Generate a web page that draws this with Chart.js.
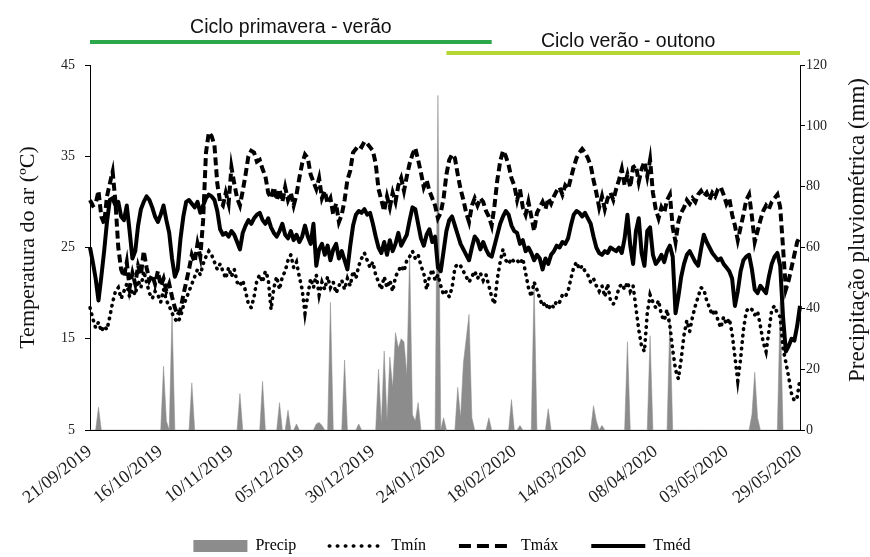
<!DOCTYPE html>
<html lang="pt">
<head>
<meta charset="utf-8">
<title>Temperatura e precipitação</title>
<script src="https://cdn.jsdelivr.net/npm/chart.js@4.4.1/dist/chart.umd.min.js"></script>
<style>
  html, body { margin: 0; padding: 0; background: #fff; }
</style>
</head>
<body>
<canvas id="chart" width="870" height="557"></canvas>
<script>
// daily series, 21/09/2019 .. 29/05/2020
const tmax = [
  30.2, 29.6, 29.8, 31.2, 28.4, 27.6, 30.6, 32.0, 33.3, 30.0,
  25.0, 22.6, 21.8, 23.4, 20.6, 22.2, 21.0, 23.0, 22.0, 24.6,
  22.8, 21.4, 22.0, 21.0, 22.4, 20.8, 21.6, 20.2, 21.0, 19.6,
  18.4, 17.6, 18.2, 19.8, 21.2, 22.6, 24.2, 23.4, 25.4, 24.0,
  28.0, 35.4, 37.6, 37.2, 36.2, 32.0, 30.0, 29.6, 31.0, 29.8,
  33.8, 32.0, 30.4, 29.6, 31.2, 33.0, 35.0, 35.6, 35.4, 34.4,
  34.6, 33.6, 32.8, 31.0, 30.4, 31.6, 30.2, 31.4, 30.0, 31.6,
  30.2, 31.0, 29.6, 30.8, 32.6, 34.2, 35.2, 34.8, 33.0, 32.2,
  31.4, 32.6, 30.4, 31.2, 29.8, 30.4, 28.6, 29.8, 27.8, 28.6,
  30.2, 32.4, 33.4, 35.4, 35.8, 36.2, 36.0, 36.6, 36.4, 36.0,
  35.6, 34.2, 31.4, 30.2, 29.0, 30.6, 29.4, 31.0, 30.0, 31.8,
  32.6, 31.2, 32.8, 34.2, 35.2, 35.9, 34.6, 33.2, 31.6, 32.4,
  31.2, 30.4, 29.6, 28.2, 28.8, 30.4, 33.0, 34.6, 35.2, 34.8,
  33.0, 31.4, 30.2, 28.8, 27.8, 29.6, 30.4, 29.6, 30.4, 30.0,
  29.0, 28.4, 27.4, 29.6, 32.4, 34.4, 35.6, 35.0, 34.0, 32.6,
  31.8, 30.2, 31.4, 29.4, 28.6, 30.0, 28.4, 26.8, 28.8, 29.4,
  30.0, 29.2, 30.4, 29.8, 30.6, 31.2, 31.6, 30.8, 31.8, 31.4,
  32.6, 33.8, 34.8, 35.4, 35.8, 35.4, 34.8, 34.0, 32.4, 31.0,
  29.4, 30.6, 29.2, 30.4, 31.0, 30.2, 31.4, 32.4, 33.6, 31.8,
  33.0, 31.6, 33.8, 34.0, 32.2, 33.6, 34.4, 32.8, 34.6, 31.0,
  29.2, 28.2, 29.4, 28.8, 30.2, 30.8, 27.2, 25.6, 27.8, 28.8,
  29.4, 30.2, 29.8, 30.4, 30.0, 30.8, 31.2, 30.6, 31.0, 30.2,
  31.0, 30.6, 31.4, 31.6, 30.8, 29.8, 30.4, 28.6, 27.4, 25.8,
  27.2, 28.6, 30.2, 30.8, 28.4, 25.6, 26.8, 28.0, 29.0, 29.6,
  29.2, 30.0, 30.4, 30.8, 29.4, 25.0, 20.4, 21.4, 22.8, 24.2, 25.6, 26.2
];

const tmin = [
  18.4, 17.2, 16.2, 16.8, 15.8, 16.4, 16.0, 17.4, 19.0, 20.2,
  20.6, 19.4, 20.2, 21.0, 19.6, 20.4, 19.8, 21.4, 20.6, 22.4,
  21.2, 20.0, 19.4, 20.2, 19.8, 19.0, 20.4, 19.2, 18.6, 17.8,
  17.2, 16.8, 17.4, 18.6, 19.4, 20.2, 21.0, 21.8, 22.6, 22.0,
  23.2, 24.0, 24.6, 24.2, 23.4, 22.6, 23.2, 22.4, 21.6, 22.8,
  21.8, 22.6, 21.2, 20.8, 21.4, 20.2, 18.8, 18.4, 19.6, 21.4,
  22.0, 21.2, 22.4, 21.6, 18.2, 20.6, 21.8, 20.4, 21.8, 22.4,
  23.6, 24.2, 22.8, 23.4, 21.8, 20.4, 17.8, 19.8, 21.6, 20.6,
  22.0, 19.8, 21.2, 20.4, 21.8, 20.6, 21.2, 20.0, 20.8, 21.4,
  20.4, 21.6, 20.8, 22.4, 21.6, 23.0, 23.8, 24.4, 23.6, 22.8,
  23.4, 22.0, 21.2, 20.4, 21.8, 20.6, 21.4, 20.2, 21.8, 22.4,
  23.0, 22.4, 23.6, 24.0, 24.6, 23.8, 24.2, 23.0, 22.2, 20.4,
  21.8, 22.6, 21.4, 22.0, 20.8, 19.8, 20.2, 19.6, 20.6, 22.8,
  23.2, 23.0, 22.4, 21.8, 21.2, 21.8, 22.4, 21.6, 22.2, 21.4,
  22.0, 20.8, 19.6, 18.8, 21.6, 23.4, 24.8, 23.6, 23.2, 23.8,
  23.4, 23.6, 23.2, 23.8, 22.2, 20.6, 19.6, 21.2, 20.4, 19.4,
  18.6, 19.0, 18.2, 18.8, 18.4, 19.2, 19.0, 19.8, 19.6, 20.2,
  21.6, 22.8, 23.4, 22.6, 23.0, 22.4, 22.0, 21.2, 21.6, 20.8,
  20.2, 20.8, 19.6, 21.0, 19.2, 18.8, 19.4, 20.6, 21.0, 20.4,
  21.2, 20.2, 20.8, 18.4, 16.0, 14.2, 13.6, 17.8, 19.8, 19.0,
  18.4, 19.2, 17.6, 17.0, 18.2, 16.4, 13.8, 11.6, 10.6, 12.8,
  15.4, 17.0, 15.8, 17.4, 18.6, 19.6, 20.6, 20.4, 19.2, 18.4,
  17.6, 18.2, 17.0, 16.2, 17.4, 16.6, 17.2, 15.6, 13.0, 10.4,
  12.8, 16.0, 18.0, 18.4, 18.2, 17.6, 18.0, 16.4, 14.6, 13.6,
  15.8, 18.2, 18.6, 17.8, 17.4, 14.0, 12.4, 10.8, 9.0, 8.2, 8.6, 10.6
];

const tmed = [
  25.0, 23.4, 21.6, 19.2, 21.8, 24.6, 27.8, 30.2, 30.4, 29.6,
  30.0, 28.4, 28.0, 29.6, 26.8, 23.8, 24.6, 27.4, 29.2, 30.0,
  30.6, 30.2, 29.4, 28.4, 27.8, 28.6, 29.6, 28.0, 26.6, 23.8,
  21.8, 22.6, 26.0, 28.4, 30.0, 30.2, 29.8, 29.4, 30.0, 28.8,
  29.6, 30.4, 30.8, 30.6, 30.2, 29.0, 27.0, 26.4, 26.6, 26.2,
  26.8, 26.4, 25.6, 24.8, 26.6, 27.4, 28.0, 27.6, 28.2, 28.6,
  28.8, 28.0, 27.6, 28.2, 27.2, 26.6, 26.2, 26.8, 27.6, 26.4,
  26.0, 26.8, 25.8, 26.4, 25.6, 26.2, 27.4, 26.2, 25.4, 27.6,
  23.0, 24.8, 25.4, 24.2, 25.2, 23.6, 24.8, 25.4, 23.8, 24.6,
  23.6, 22.6, 25.2, 27.4, 28.6, 29.0, 28.8, 29.2, 28.6, 28.8,
  27.6, 26.2, 25.0, 24.4, 25.6, 24.2, 25.8, 24.6, 25.4, 26.6,
  25.2, 25.8, 26.4, 28.0, 29.4, 29.2, 27.6, 26.0, 25.2, 26.4,
  27.0, 25.6, 26.2, 22.8, 22.4, 24.6, 26.8, 28.0, 28.4, 27.4,
  26.4, 25.4, 24.8, 24.2, 23.6, 25.0, 26.2, 25.8, 24.8, 25.6,
  24.8, 24.2, 24.0, 25.2, 26.4, 27.6, 28.4, 29.0, 28.6, 27.4,
  26.8, 26.6, 25.4, 25.8, 24.6, 25.0, 24.4, 23.6, 24.2, 23.8,
  22.6, 23.8, 23.2, 24.2, 24.6, 25.2, 25.0, 25.6, 25.4, 26.0,
  27.4, 28.6, 29.0, 28.8, 28.4, 28.8, 28.2, 27.6, 26.2, 25.0,
  24.4, 24.2, 24.6, 24.4, 25.0, 24.8, 24.6, 25.0, 24.4, 26.0,
  28.6, 25.2, 23.2, 26.8, 28.2, 24.4, 23.0, 26.8, 27.2, 24.2,
  23.2, 23.6, 24.2, 23.4, 24.6, 25.2, 24.0, 17.8, 19.6, 21.8,
  23.2, 24.2, 24.6, 24.0, 23.4, 23.0, 24.8, 26.4, 25.6, 25.0,
  24.4, 24.0, 23.6, 23.8, 23.2, 22.8, 22.4, 21.6, 18.6, 20.2,
  22.4, 23.6, 24.0, 24.2, 22.6, 20.4, 20.0, 20.8, 20.4, 20.0,
  21.8, 23.2, 24.0, 24.4, 23.0, 17.4, 13.6, 14.2, 15.0, 14.8, 16.4, 18.6
];

const precip = [
  0, 0, 0, 7.5, 0, 0, 0, 0, 0, 0,
  0, 0, 0, 0, 0, 0, 0, 0, 0, 0,
  0, 0, 0, 0, 0, 0, 21, 3, 0, 39,
  0, 0, 0, 0, 0, 0, 15.5, 0, 0, 0,
  0, 0, 0, 0, 0, 0, 0, 0, 0, 0,
  0, 0, 0, 12, 0, 0, 0, 0, 0, 0,
  0, 16, 0, 0, 0, 0, 0, 9, 0, 0,
  6.5, 0, 0, 2, 0, 0, 0, 0, 0, 0,
  2, 2.5, 1.5, 0, 0, 42, 0, 0, 0, 0,
  23, 0, 0, 0, 0, 2, 0, 0, 0, 0,
  0, 0, 20, 2, 26, 3, 24, 14, 32, 27,
  30, 29, 18, 58, 5, 3, 9, 0, 0, 0,
  0, 0, 0, 110, 0, 4, 0, 0, 0, 0,
  14, 4, 22, 30, 38, 4, 0, 0, 0, 0,
  0, 4, 0, 0, 0, 0, 0, 0, 0, 10,
  0, 0, 1.5, 0, 0, 0, 0, 49, 0, 0,
  0, 0, 7, 0, 0, 0, 0, 0, 0, 0,
  0, 0, 0, 0, 0, 0, 0, 0, 8, 3,
  0, 1.5, 0, 0, 0, 0, 0, 0, 0, 0,
  29, 0, 0, 0, 0, 0, 0, 0, 31, 0,
  0, 0, 0, 0, 0, 37, 0, 0, 0, 0,
  0, 0, 0, 0, 0, 0, 0, 0, 0, 0,
  0, 0, 0, 0, 0, 0, 0, 0, 0, 0,
  0, 0, 0, 0, 5, 19, 4, 0, 0, 0,
  0, 0, 0, 0, 42, 0, 0, 0, 0, 0, 0, 0
];

// x labels shown every 25 days, plus the last day
const tickIdx = [0, 25, 50, 75, 100, 125, 150, 175, 200, 225, 251];

// crop cycles drawn above the plot (start / end day index)
const cycleNames = ['Ciclo primavera - verão', 'Ciclo verão - outono'];
const cycleStart = [0, 126];
const cycleEnd = [142, 251];

const dates = [];
for (let i = 0; i < tmax.length; i++) {
  const d = new Date(2019, 8, 21 + i);
  const dd = String(d.getDate()).padStart(2, '0');
  const mm = String(d.getMonth() + 1).padStart(2, '0');
  dates.push(dd + '/' + mm + '/' + d.getFullYear());
}

const serif = "'Liberation Serif', 'Times New Roman', serif";
const sans = "'Liberation Sans', Arial, sans-serif";
const gray = '#8c8c8c';

const cyclePlugin = {
  id: 'cycles',
  afterDraw(chart) {
    const ctx = chart.ctx;
    const x = chart.scales.x;
    const barY = [42, 53];
    const textY = [33, 47];
    const textShift = [0, 5];
    const colors = ['#2aa84a', '#b4d734'];
    ctx.save();
    cycleNames.forEach((name, i) => {
      const x0 = x.getPixelForValue(cycleStart[i]);
      const x1 = x.getPixelForValue(cycleEnd[i]);
      ctx.fillStyle = colors[i];
      ctx.fillRect(x0, barY[i] - 2, x1 - x0, 4);
      ctx.fillStyle = '#111';
      ctx.font = '19.5px ' + sans;
      ctx.textAlign = 'center';
      ctx.textBaseline = 'alphabetic';
      ctx.fillText(name, (x0 + x1) / 2 + textShift[i], textY[i]);
    });
    ctx.restore();
  }
};

// right-hand title reads bottom-to-top like the left one
const rightTitle = {
  id: 'rightTitle',
  afterDraw(chart) {
    const ctx = chart.ctx;
    ctx.save();
    ctx.translate(858, 230);
    ctx.rotate(-Math.PI / 2);
    ctx.font = '23px ' + serif;
    ctx.fillStyle = '#111';
    ctx.textAlign = 'center';
    ctx.textBaseline = 'middle';
    ctx.fillText('Precipitação pluviométrica (mm)', 0, 0);
    ctx.restore();
  }
};

const ctx = document.getElementById('chart');

new Chart(ctx, {
  type: 'line',
  data: {
    labels: dates,
    datasets: [
      {
        label: 'Precip',
        data: precip,
        yAxisID: 'y2',
        borderColor: gray,
        borderWidth: 0.5,
        backgroundColor: gray,
        fill: 'origin',
        pointRadius: 0,
        order: 1
      },
      {
        label: 'Tmín',
        data: tmin,
        yAxisID: 'y',
        borderColor: '#000',
        borderWidth: 3.6,
        borderDash: [0.5, 6],
        borderCapStyle: 'round',
        pointRadius: 0,
        order: 0
      },
      {
        label: 'Tmáx',
        data: tmax,
        yAxisID: 'y',
        borderColor: '#000',
        borderWidth: 4,
        borderDash: [8, 4],
        pointRadius: 0,
        order: 0
      },
      {
        label: 'Tméd',
        data: tmed,
        yAxisID: 'y',
        borderColor: '#000',
        borderWidth: 4,
        borderJoinStyle: 'round',
        pointRadius: 0,
        order: 0
      }
    ]
  },
  options: {
    responsive: false,
    animation: false,
    layout: { padding: { top: 65, right: 0, bottom: -7, left: 14 } },
    plugins: {
      tooltip: { enabled: false },
      legend: {
        position: 'bottom',
        labels: {
          usePointStyle: true,
          pointStyleWidth: 54,
          boxHeight: 12,
          padding: 33,
          color: '#000',
          font: { family: serif, size: 16 },
          generateLabels(chart) {
            const ds = chart.data.datasets;
            return [
              { text: ds[0].label, pointStyle: 'rect', fillStyle: gray, strokeStyle: gray, lineWidth: 0, fontColor: '#000', datasetIndex: 0 },
              { text: ds[1].label, pointStyle: 'line', strokeStyle: '#000', lineWidth: 3.5, lineDash: [0.5, 7.5], lineCap: 'round', fontColor: '#000', datasetIndex: 1 },
              { text: ds[2].label, pointStyle: 'line', strokeStyle: '#000', lineWidth: 4, lineDash: [12, 6], fontColor: '#000', datasetIndex: 2 },
              { text: ds[3].label, pointStyle: 'line', strokeStyle: '#000', lineWidth: 4, lineDash: [], fontColor: '#000', datasetIndex: 3 }
            ];
          }
        }
      }
    },
    scales: {
      x: {
        grid: { display: false },
        border: { display: true, color: '#000', width: 1 },
        ticks: {
          autoSkip: false,
          minRotation: 38,
          maxRotation: 38,
          color: '#222',
          font: { family: serif, size: 18 },
          callback(value, index) {
            return tickIdx.includes(index) ? dates[index] : null;
          }
        },
        afterFit(scale) { scale.height = 75; }
      },
      y: {
        position: 'left',
        min: 5,
        max: 45,
        ticks: { stepSize: 10, padding: 10, color: '#222', font: { family: serif, size: 14 } },
        grid: { drawOnChartArea: false, drawTicks: true, tickLength: 5, color: '#000' },
        border: { color: '#000', width: 1 },
        title: {
          display: true,
          text: 'Temperatura do ar (ºC)',
          color: '#111',
          font: { family: serif, size: 22 },
          padding: { top: 1, bottom: 0 }
        },
        afterFit(scale) { scale.width = 76; }
      },
      y2: {
        position: 'right',
        min: 0,
        max: 120,
        ticks: { stepSize: 20, padding: 1, color: '#222', font: { family: serif, size: 14 } },
        grid: { drawOnChartArea: false, drawTicks: true, tickLength: 5, color: '#000' },
        border: { color: '#000', width: 1 },
        afterFit(scale) { scale.width = 70; }
      }
    }
  },
  plugins: [cyclePlugin, rightTitle]
});
</script>
</body>
</html>
